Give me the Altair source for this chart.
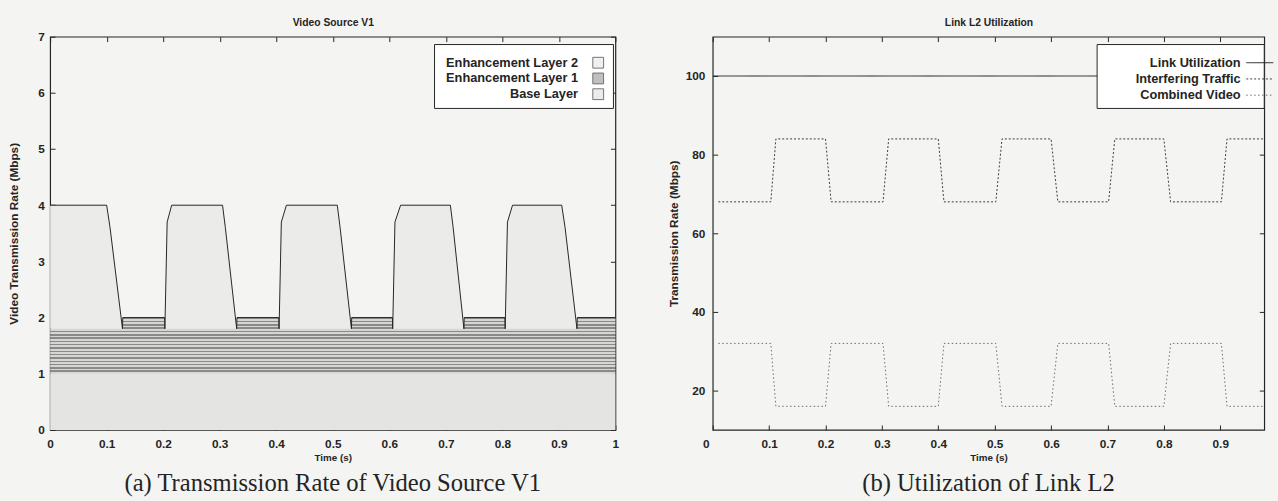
import altair as alt
import pandas as pd

# ---------------- data: panel (a) Video Source V1 ----------------
TIME_A = [0.000, 0.100, 0.106, 0.128, 0.1285, 0.2025, 0.203, 0.207, 0.215, 0.305,
          0.310, 0.330, 0.3305, 0.4045, 0.405, 0.409, 0.418, 0.508, 0.513, 0.533,
          0.5335, 0.6055, 0.606, 0.610, 0.620, 0.708, 0.713, 0.732, 0.7325, 0.8045,
          0.805, 0.809, 0.818, 0.905, 0.911, 0.932, 0.9325, 1.000]
BASE_TOP = [1.0] * len(TIME_A)
EL1_TOP = [1.8, 1.8, 1.8, 1.8, 2.0, 2.0, 1.8, 1.8, 1.8, 1.8,
           1.8, 1.8, 2.0, 2.0, 1.8, 1.8, 1.8, 1.8, 1.8, 1.8,
           2.0, 2.0, 1.8, 1.8, 1.8, 1.8, 1.8, 1.8, 2.0, 2.0,
           1.8, 1.8, 1.8, 1.8, 1.8, 1.8, 2.0, 2.0]
TOTAL_TOP = [4.0, 4.0, 3.6, 1.8, 2.0, 2.0, 1.8, 3.7, 4.0, 4.0,
             3.6, 1.8, 2.0, 2.0, 1.8, 3.7, 4.0, 4.0, 3.6, 1.8,
             2.0, 2.0, 1.8, 3.7, 4.0, 4.0, 3.6, 1.8, 2.0, 2.0,
             1.8, 3.7, 4.0, 4.0, 3.6, 1.8, 2.0, 2.0]
LAYER_NAMES = ["Enhancement Layer 2", "Enhancement Layer 1", "Base Layer"]

# ---------------- data: panel (b) Link L2 Utilization ----------------
TIME_B = [0.010, 0.103, 0.112, 0.200, 0.210, 0.302, 0.312, 0.400, 0.410, 0.502,
          0.513, 0.600, 0.612, 0.702, 0.713, 0.800, 0.812, 0.902, 0.912, 1.000]
INTERFERING = [68, 68, 84, 84, 68, 68, 84, 84, 68, 68,
               84, 84, 68, 68, 84, 84, 68, 68, 84, 84]
COMBINED = [32, 32, 16, 16, 32, 32, 16, 16, 32, 32,
            16, 16, 32, 32, 16, 16, 32, 32, 16, 16]
LINK_T = [0.0, 1.0]
LINK_UTIL = [100, 100]
SERIES = ["Link Utilization", "Interfering Traffic", "Combined Video"]

X_TICKS_A = [0, 0.1, 0.2, 0.3, 0.4, 0.5, 0.6, 0.7, 0.8, 0.9, 1.0]
X_TICKS_B = [0, 0.1, 0.2, 0.3, 0.4, 0.5, 0.6, 0.7, 0.8, 0.9]
Y_TICKS_A = [0, 1, 2, 3, 4, 5, 6, 7]
Y_TICKS_B = [20, 40, 60, 80, 100]

# ---------------- styles ----------------
FONT = "Liberation Sans"
SERIF = "Liberation Serif"
INK = "#242424"
BG = "#f4f4f2"
BASE_FILL = "#e4e4e2"
EL2_FILL = "#ebebe9"
EL1_FLAT = "#a4a4a2"

stops = []
N_STRIPES = 17
for k in range(N_STRIPES):
    a = k / N_STRIPES
    b = (k + 0.45) / N_STRIPES
    c = (k + 1) / N_STRIPES
    stops += [alt.GradientStop(color="#8a8a88", offset=a),
              alt.GradientStop(color="#8a8a88", offset=b),
              alt.GradientStop(color="#d6d6d4", offset=b),
              alt.GradientStop(color="#d6d6d4", offset=c)]
EL1_FILL = alt.Gradient(gradient="linear", stops=stops, x1=0, x2=0, y1=0, y2=1)

W_A, W_B, H = 575, 561, 400


def ax_bottom(values, title, zero_shift=0):
    kw = {}
    if zero_shift:
        kw["labelOffset"] = {"condition": {"test": "datum.value == 0", "value": zero_shift},
                             "value": 0}
    return alt.Axis(orient="bottom", values=values, format="~g", offset=-5, tickSize=5,
                    tickColor=INK, domain=False, grid=False, labelFont=FONT,
                    labelFontSize=12, labelFontWeight="bold", labelColor=INK,
                    labelPadding=9, labelFlush=False, title=title, titleFont=FONT,
                    titleFontSize=10, titleFontWeight="bold", titleColor=INK,
                    titlePadding=3, **kw)


def ax_top(values, title):
    return alt.Axis(orient="top", values=values, offset=-5, tickSize=5, tickColor=INK,
                    domain=False, grid=False, labels=False, title=title, titleFont=FONT,
                    titleFontSize=10.5, titleFontWeight="bold", titleColor=INK,
                    titlePadding=9)


def ax_left(values, title, lpad, tpad):
    return alt.Axis(orient="left", values=values, offset=-5, tickSize=5, tickColor=INK,
                    domain=False, grid=False, labelFont=FONT, labelFontSize=12,
                    labelFontWeight="bold", labelColor=INK, labelPadding=lpad, title=title,
                    titleFont=FONT, titleFontSize=12, titleFontWeight="bold",
                    titleColor=INK, titlePadding=tpad)


def ax_right(values):
    return alt.Axis(orient="right", values=values, offset=-5, tickSize=5, tickColor=INK,
                    domain=False, grid=False, labels=False, title=None)


def legend_box(x1, x2, y1, y2):
    return alt.Chart(pd.DataFrame({"k": [0]})).mark_rect(
        fill="white", stroke=INK, strokeWidth=1
    ).encode(x=alt.value(x1), x2=alt.value(x2), y=alt.value(y1), y2=alt.value(y2))


# ---------------- panel (a) ----------------
df_a = pd.DataFrame({"t": TIME_A, "base": BASE_TOP, "el1": EL1_TOP, "total": TOTAL_TOP})
df_a["i"] = range(len(df_a))

xs_a = alt.Scale(domain=[0, 1], nice=False)
ys_a = alt.Scale(domain=[0, 7], nice=False)

base_area = alt.Chart(df_a).mark_area(fill=BASE_FILL).encode(
    x=alt.X("t:Q", scale=xs_a, axis=ax_bottom(X_TICKS_A, "Time (s)")),
    y=alt.Y("base:Q", scale=ys_a, stack=None,
            axis=ax_left(Y_TICKS_A, "Video Transmission Rate (Mbps)", 6, 18)),
)
el1_area = alt.Chart(df_a).mark_area(color=EL1_FILL).encode(
    x=alt.X("t:Q", scale=xs_a, axis=ax_top(X_TICKS_A, "Video Source V1")),
    y=alt.Y("el1:Q", scale=ys_a, stack=None, axis=ax_right(Y_TICKS_A)),
    y2="base:Q",
)
el2_area = alt.Chart(df_a).mark_area(fill=EL2_FILL).encode(
    x=alt.X("t:Q", scale=xs_a, axis=None),
    y=alt.Y("total:Q", scale=ys_a, stack=None, axis=None),
    y2="el1:Q",
)
outline = alt.Chart(df_a).mark_line(color=INK, strokeWidth=1).encode(
    x=alt.X("t:Q", scale=xs_a, axis=None),
    y=alt.Y("total:Q", scale=ys_a, axis=None),
    order=alt.Order("i:Q"),
)
legend_a = alt.Chart(pd.DataFrame({"layer": LAYER_NAMES})).mark_square(clip=True, size=121).encode(
    x=alt.value(-500), y=alt.value(-500),
    fill=alt.Fill("layer:N", sort=LAYER_NAMES,
                  scale=alt.Scale(domain=LAYER_NAMES, range=[EL2_FILL, EL1_FLAT, BASE_FILL]),
                  legend=alt.Legend(orient="none", legendX=551, legendY=20, title=None,
                                    padding=0, labelFont=FONT, labelFontSize=13,
                                    labelFontWeight="bold", labelColor=INK,
                                    labelAlign="right", labelOffset={"expr": "-27"},
                                    symbolType="square", symbolSize=121,
                                    symbolStrokeColor=INK, symbolStrokeWidth=0.9,
                                    rowPadding=1)),
)

chart_a = alt.layer(
    base_area, el1_area, el2_area, outline, legend_box(391, 573, 8, 73), legend_a
).resolve_axis(x="independent", y="independent").properties(
    width=W_A, height=H,
    title=alt.TitleParams("(a) Transmission Rate of Video Source V1", orient="bottom",
                          font=SERIF, fontSize=25, fontWeight="normal", color=INK,
                          anchor="middle", frame="group", offset=9),
)

# ---------------- panel (b) ----------------
rows = []
for t, v in zip(LINK_T, LINK_UTIL):
    rows.append({"t": t, "rate": v, "series": SERIES[0]})
for t, v in zip(TIME_B, INTERFERING):
    rows.append({"t": t, "rate": v, "series": SERIES[1]})
for t, v in zip(TIME_B, COMBINED):
    rows.append({"t": t, "rate": v, "series": SERIES[2]})
df_b = pd.DataFrame(rows)
df_link = pd.DataFrame({"t": LINK_T, "rate": LINK_UTIL})

xs_b = alt.Scale(domain=[0, 0.978], nice=False)
ys_b = alt.Scale(domain=[10, 110], nice=False)

lines_b = alt.Chart(df_b).mark_line(strokeWidth=1, clip=True).encode(
    x=alt.X("t:Q", scale=xs_b, axis=ax_bottom(X_TICKS_B, "Time (s)", zero_shift=-7)),
    y=alt.Y("rate:Q", scale=ys_b, axis=ax_left(Y_TICKS_B, "Transmission Rate (Mbps)", 8, 5)),
    color=alt.Color("series:N", sort=SERIES,
                    scale=alt.Scale(domain=SERIES, range=[INK, "#3a3a3a", "#6a6a6a"]),
                    legend=alt.Legend(orient="none", legendX=550, legendY=20, title=None,
                                      padding=0, labelFont=FONT, labelFontSize=13,
                                      labelFontWeight="bold", labelColor=INK,
                                      labelAlign="right", labelOffset={"expr": "-26"},
                                      symbolType="M-2.5,0L2.5,0", symbolSize=121,
                                      symbolFillColor="transparent",
                                      symbolStrokeWidth=1, rowPadding=2.5)),
    strokeDash=alt.StrokeDash("series:N", sort=SERIES,
                              scale=alt.Scale(domain=SERIES, range=[[1, 0], [2, 2], [1.5, 2.5]]),
                              legend=None),
    detail="series:N",
)
mirror_b = alt.Chart(df_link).mark_line(opacity=0).encode(
    x=alt.X("t:Q", scale=xs_b, axis=ax_top(X_TICKS_B, "Link L2 Utilization")),
    y=alt.Y("rate:Q", scale=ys_b, axis=ax_right(Y_TICKS_B)),
)

chart_b = alt.layer(lines_b, mirror_b, legend_box(391, W_B, 8, 73)).resolve_axis(
    x="independent", y="independent"
).properties(
    width=W_B, height=H,
    title=alt.TitleParams("(b) Utilization of Link L2", orient="bottom",
                          font=SERIF, fontSize=25, fontWeight="normal", color=INK,
                          anchor="middle", frame="group", offset=9),
)

chart = alt.hconcat(chart_a, chart_b, spacing=48).resolve_legend(
    color="independent", fill="independent", strokeDash="independent"
).properties(
    background=BG,
    padding={"left": 6, "top": 12, "right": 0, "bottom": 0},
).configure_view(stroke=INK, strokeWidth=1.2)

chart.save("out.html", embed_options={"renderer": "svg", "actions": False})
